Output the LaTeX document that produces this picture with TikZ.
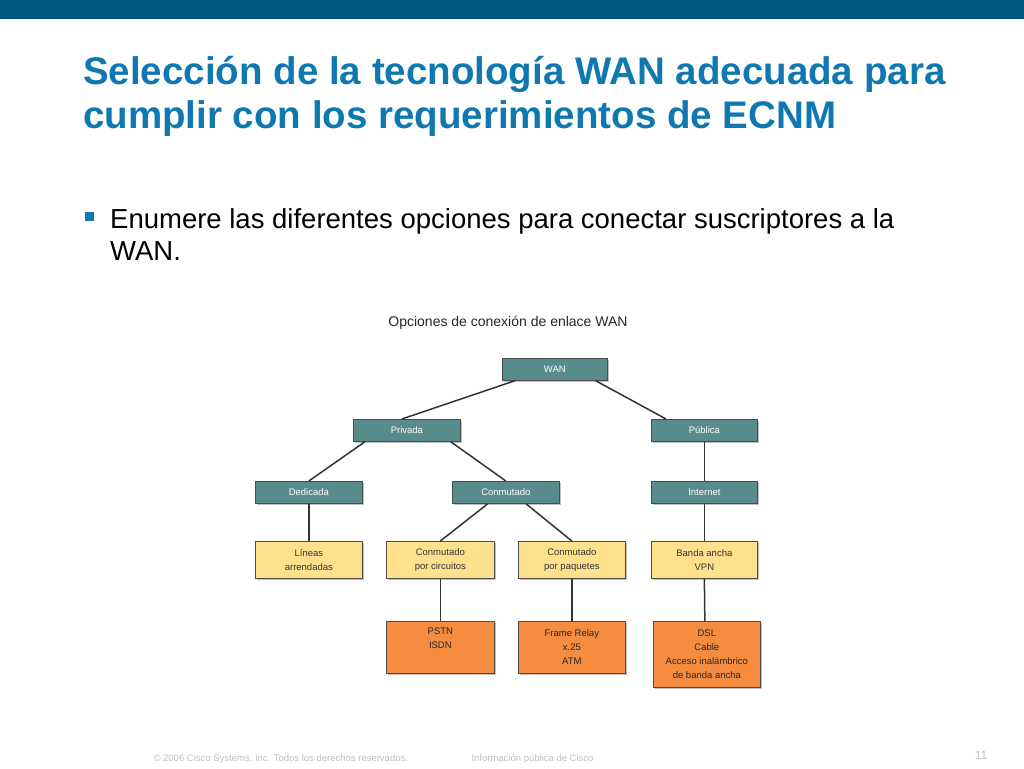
\documentclass[tikz,border=0pt]{standalone}
\usepackage{fontspec}
\setmainfont{Liberation Sans}
\usetikzlibrary{shadows}
\definecolor{topbar}{RGB}{0,88,128}
\definecolor{titleblue}{RGB}{16,120,176}
\definecolor{tealbox}{RGB}{88,140,140}
\definecolor{yelbox}{RGB}{255,224,140}
\definecolor{orabox}{RGB}{246,140,64}
\definecolor{footgray}{RGB}{190,190,190}
\tikzset{
  bx/.style={draw=black!70,line width=0.7pt,inner sep=0pt,align=center,anchor=north west,
    drop shadow={shadow xshift=1.5pt,shadow yshift=-1.5pt,opacity=0.5},font=\fontsize{9.5}{14}\selectfont},
  tealb/.style={bx,fill=tealbox,text=white,minimum height=22pt},
  yelb/.style={bx,fill=yelbox,text=black!80,minimum height=37pt},
  orab/.style={bx,fill=orabox,text=black!85},
  ln/.style={line width=1.5pt,black!80}
}
\begin{document}
\begin{tikzpicture}[x=1pt,y=1pt]
\useasboundingbox (0,0) rectangle (1024,-768);
\fill[topbar] (0,0) rectangle (1024,-19);
\node[anchor=north west,text=titleblue,font=\bfseries\fontsize{38.5}{44}\selectfont,align=left,inner sep=0pt] (title) at (83,-56)
 {Selección de la tecnología WAN adecuada para\\cumplir con los requerimientos de ECNM};
\fill[titleblue] (85,-212) rectangle (94,-221);
\node[anchor=north west,font=\fontsize{27.5}{32}\selectfont,align=left,inner sep=0pt] (bul) at (110,-208)
 {Enumere las diferentes opciones para conectar suscriptores a la\\WAN.};
\node[font=\fontsize{14}{16}\selectfont,text=black!85] (cap) at (508,-323) {Opciones de conexión de enlace WAN};
\node[tealb,minimum width=105pt] (wan) at (502,-358) {WAN};
\node[tealb,minimum width=107pt] (priv) at (353,-419) {Privada};
\node[tealb,minimum width=106pt] (pub) at (651,-419) {Pública};
\node[tealb,minimum width=107pt] (ded) at (255,-481) {Dedicada};
\node[tealb,minimum width=107pt] (con) at (452,-481) {Conmutado};
\node[tealb,minimum width=106pt] (int) at (651,-481) {Internet};
\node[yelb,minimum width=107pt] (lin) at (255,-541) {Líneas\\arrendadas};
\node[yelb,minimum width=108pt] (cir) at (386,-541) {Conmutado\\por circuitos};
\node[yelb,minimum width=107pt] (paq) at (518,-541) {Conmutado\\por paquetes};
\node[yelb,minimum width=106pt] (vpn) at (651,-541) {Banda ancha\\VPN};
\node[orab,minimum width=108pt,minimum height=52pt] (pstn) at (386,-621) {PSTN\\ISDN\\\strut};
\node[orab,minimum width=107pt,minimum height=52pt] (fr) at (518,-621) {Frame Relay\\x.25\\ATM};
\node[orab,minimum width=107pt,minimum height=66pt] (dsl) at (653,-621) {DSL\\Cable\\Acceso inalámbrico\\de banda ancha};
\draw[ln] ([xshift=13pt]wan.south west) -- ([xshift=-5pt]priv.north);
\draw[ln] ([xshift=-12pt]wan.south east) -- ([xshift=15pt]pub.north west);
\draw[ln] ([xshift=12pt]priv.south west) -- (ded.north);
\draw[ln] ([xshift=-10pt]priv.south east) -- (con.north);
\draw[ln] ([xshift=-18pt]con.south) -- (cir.north);
\draw[ln] ([xshift=20pt]con.south) -- (paq.north);
\draw[ln] (pub.south) -- (int.north);
\draw[ln] (ded.south) -- (lin.north);
\draw[ln] (int.south) -- (vpn.north);
\draw[ln] (cir.south) -- (pstn.north);
\draw[ln] (paq.south) -- (fr.north);
\draw[ln] (vpn.south) -- ([xshift=-2pt]dsl.north);
\node[text=footgray,font=\fontsize{9.5}{11}\selectfont,anchor=west] (f1) at (150,-759) {© 2006 Cisco Systems, Inc. Todos los derechos reservados.};
\node[text=footgray,font=\fontsize{9.5}{11}\selectfont,anchor=west] (f2) at (468,-759) {Información pública de Cisco};
\node[text=footgray,font=\fontsize{12}{14}\selectfont] (f3) at (981,-755) {11};
\end{tikzpicture}
\end{document}
